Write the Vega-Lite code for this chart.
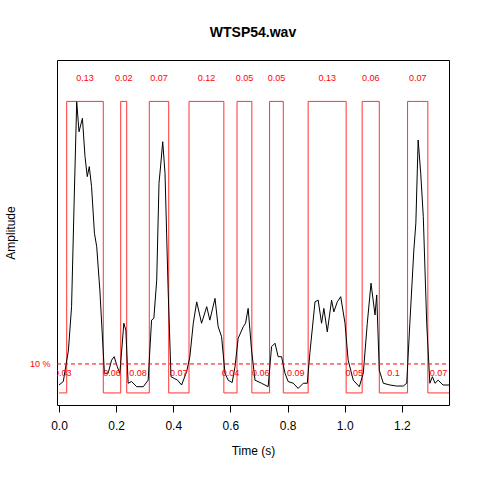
{
"$schema":"https://vega.github.io/schema/vega-lite/v6.json",
"width":392,"height":345,
"autosize":{"type":"none"},
"padding":{"left":57,"top":60,"right":31,"bottom":75},
"background":"white",
"config":{"font":"Liberation Sans","view":{"stroke":"#000","strokeWidth":1}},
"title":{"text":"WTSP54.wav","fontSize":14,"fontWeight":"bold","font":"Liberation Sans","offset":20,"color":"#000"},
"datasets":{
"env":[
{"t":0.000,"a":0.058},{"t":0.015,"a":0.068},{"t":0.033,"a":0.159},{"t":0.044,"a":0.285},{"t":0.054,"a":0.623},{"t":0.062,"a":0.879},{"t":0.070,"a":0.792},{"t":0.082,"a":0.831},{"t":0.091,"a":0.720},{"t":0.099,"a":0.662},{"t":0.106,"a":0.691},{"t":0.114,"a":0.633},{"t":0.124,"a":0.498},{"t":0.132,"a":0.459},{"t":0.143,"a":0.333},{"t":0.159,"a":0.092},{"t":0.172,"a":0.092},{"t":0.184,"a":0.130},{"t":0.193,"a":0.140},{"t":0.204,"a":0.111},{"t":0.213,"a":0.092},{"t":0.227,"a":0.237},{"t":0.234,"a":0.217},{"t":0.242,"a":0.063},{"t":0.254,"a":0.068},{"t":0.272,"a":0.053},{"t":0.295,"a":0.053},{"t":0.312,"a":0.072},{"t":0.324,"a":0.246},{"t":0.332,"a":0.251},{"t":0.342,"a":0.362},{"t":0.350,"a":0.643},{"t":0.356,"a":0.696},{"t":0.363,"a":0.763},{"t":0.371,"a":0.672},{"t":0.382,"a":0.333},{"t":0.392,"a":0.082},{"t":0.403,"a":0.077},{"t":0.415,"a":0.072},{"t":0.429,"a":0.058},{"t":0.447,"a":0.097},{"t":0.458,"a":0.140},{"t":0.470,"a":0.237},{"t":0.482,"a":0.299},{"t":0.499,"a":0.237},{"t":0.517,"a":0.285},{"t":0.528,"a":0.246},{"t":0.546,"a":0.309},{"t":0.557,"a":0.227},{"t":0.569,"a":0.198},{"t":0.581,"a":0.092},{"t":0.592,"a":0.072},{"t":0.606,"a":0.065},{"t":0.616,"a":0.111},{"t":0.627,"a":0.193},{"t":0.645,"a":0.227},{"t":0.653,"a":0.237},{"t":0.662,"a":0.280},{"t":0.674,"a":0.159},{"t":0.686,"a":0.072},{"t":0.709,"a":0.063},{"t":0.732,"a":0.053},{"t":0.744,"a":0.169},{"t":0.756,"a":0.179},{"t":0.767,"a":0.140},{"t":0.779,"a":0.140},{"t":0.791,"a":0.092},{"t":0.802,"a":0.068},{"t":0.820,"a":0.063},{"t":0.837,"a":0.048},{"t":0.855,"a":0.063},{"t":0.869,"a":0.063},{"t":0.878,"a":0.150},{"t":0.896,"a":0.299},{"t":0.907,"a":0.304},{"t":0.919,"a":0.237},{"t":0.927,"a":0.280},{"t":0.939,"a":0.212},{"t":0.954,"a":0.304},{"t":0.962,"a":0.270},{"t":0.974,"a":0.299},{"t":0.986,"a":0.314},{"t":1.001,"a":0.237},{"t":1.012,"a":0.130},{"t":1.030,"a":0.072},{"t":1.051,"a":0.053},{"t":1.065,"a":0.092},{"t":1.079,"a":0.237},{"t":1.092,"a":0.353},{"t":1.106,"a":0.261},{"t":1.112,"a":0.319},{"t":1.121,"a":0.101},{"t":1.135,"a":0.063},{"t":1.158,"a":0.058},{"t":1.182,"a":0.055},{"t":1.205,"a":0.055},{"t":1.217,"a":0.063},{"t":1.228,"a":0.237},{"t":1.242,"a":0.449},{"t":1.249,"a":0.527},{"t":1.257,"a":0.768},{"t":1.266,"a":0.672},{"t":1.275,"a":0.546},{"t":1.287,"a":0.237},{"t":1.298,"a":0.063},{"t":1.307,"a":0.082},{"t":1.316,"a":0.063},{"t":1.327,"a":0.072},{"t":1.344,"a":0.058},{"t":1.365,"a":0.058}
],
"sq":[
{"i":0,"t":0,"a":0.035},{"i":1,"t":0.027,"a":0.035},{"i":2,"t":0.027,"a":0.88},{"i":3,"t":0.155,"a":0.88},{"i":4,"t":0.155,"a":0.035},{"i":5,"t":0.216,"a":0.035},{"i":6,"t":0.216,"a":0.88},{"i":7,"t":0.237,"a":0.88},{"i":8,"t":0.237,"a":0.035},{"i":9,"t":0.316,"a":0.035},{"i":10,"t":0.316,"a":0.88},{"i":11,"t":0.384,"a":0.88},{"i":12,"t":0.384,"a":0.035},{"i":13,"t":0.455,"a":0.035},{"i":14,"t":0.455,"a":0.88},{"i":15,"t":0.577,"a":0.88},{"i":16,"t":0.577,"a":0.035},{"i":17,"t":0.623,"a":0.035},{"i":18,"t":0.623,"a":0.88},{"i":19,"t":0.675,"a":0.88},{"i":20,"t":0.675,"a":0.035},{"i":21,"t":0.737,"a":0.035},{"i":22,"t":0.737,"a":0.88},{"i":23,"t":0.785,"a":0.88},{"i":24,"t":0.785,"a":0.035},{"i":25,"t":0.872,"a":0.035},{"i":26,"t":0.872,"a":0.88},{"i":27,"t":1.005,"a":0.88},{"i":28,"t":1.005,"a":0.035},{"i":29,"t":1.061,"a":0.035},{"i":30,"t":1.061,"a":0.88},{"i":31,"t":1.121,"a":0.88},{"i":32,"t":1.121,"a":0.035},{"i":33,"t":1.220,"a":0.035},{"i":34,"t":1.220,"a":0.88},{"i":35,"t":1.291,"a":0.88},{"i":36,"t":1.291,"a":0.035},{"i":37,"t":1.365,"a":0.035}
],
"labs":[
{"t":0.091,"a":0.948,"l":"0.13"},{"t":0.2265,"a":0.948,"l":"0.02"},{"t":0.35,"a":0.948,"l":"0.07"},{"t":0.516,"a":0.948,"l":"0.12"},{"t":0.649,"a":0.948,"l":"0.05"},{"t":0.761,"a":0.948,"l":"0.05"},{"t":0.9385,"a":0.948,"l":"0.13"},{"t":1.091,"a":0.948,"l":"0.06"},{"t":1.2555,"a":0.948,"l":"0.07"},
{"t":0.0135,"a":0.093,"l":"0.03"},{"t":0.1855,"a":0.093,"l":"0.06"},{"t":0.2765,"a":0.093,"l":"0.08"},{"t":0.4195,"a":0.093,"l":"0.07"},{"t":0.6,"a":0.093,"l":"0.04"},{"t":0.706,"a":0.093,"l":"0.06"},{"t":0.8285,"a":0.093,"l":"0.09"},{"t":1.033,"a":0.093,"l":"0.05"},{"t":1.1705,"a":0.093,"l":"0.1"},{"t":1.328,"a":0.093,"l":"0.07"}
],
"thr":[{"a":0.119,"t":-0.066,"l":"10 %"}]
},
"encoding":{
"x":{"field":"t","type":"quantitative","scale":{"domain":[-0.007,1.365],"nice":false,"zero":false},
 "axis":{"title":"Time (s)","values":[0,0.2,0.4,0.6,0.8,1.0,1.2],"format":".1f","grid":false,"domain":false,"tickColor":"#000","tickSize":7,"labelFontSize":12,"labelColor":"#000","labelPadding":8,"titleFontSize":12,"titleFontWeight":"normal","titleColor":"#000","titlePadding":14}},
"y":{"field":"a","type":"quantitative","scale":{"domain":[0,1],"nice":false},
 "axis":{"title":"Amplitude","labels":false,"ticks":false,"grid":false,"domain":false,"titleFontSize":12,"titleFontWeight":"normal","titleColor":"#000","titlePadding":40}}
},
"layer":[
{"data":{"name":"sq"},"mark":{"type":"line","color":"#FF3333","strokeWidth":1,"clip":true},"encoding":{"order":{"field":"i"}}},
{"data":{"name":"env"},"mark":{"type":"line","color":"#000","strokeWidth":1,"clip":true}},
{"data":{"name":"thr"},"mark":{"type":"rule","color":"#FF0000","strokeDash":[4,3],"strokeWidth":1},"encoding":{"x":{"datum":-0.007},"x2":{"datum":1.365}}},
{"data":{"name":"thr"},"mark":{"type":"text","color":"#FF0000","fontSize":9,"align":"center","baseline":"middle","clip":false},"encoding":{"text":{"field":"l"}}},
{"data":{"name":"labs"},"mark":{"type":"text","color":"#FF0000","fontSize":9,"align":"center","baseline":"middle","clip":true},"encoding":{"text":{"field":"l"}}}
]
}
